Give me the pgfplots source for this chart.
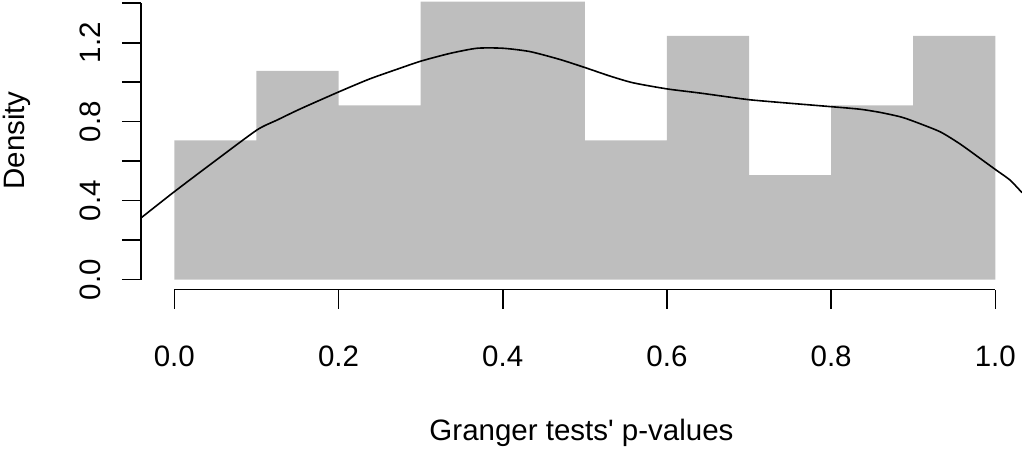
\documentclass[border=0pt]{standalone}
\usepackage{fontspec}
\setmainfont{Liberation Sans}
\usepackage{textcomp}
\usepackage{pgfplots}
\pgfplotsset{compat=1.18}
\definecolor{histgray}{HTML}{BEBEBE}

\begin{document}
\begin{tikzpicture}
\begin{axis}[
    scale only axis,
    width=881pt,height=289.5pt,
    xmin=-0.0406,xmax=1.0325,
    ymin=-0.0507,ymax=1.4166,
    axis x line*=bottom,axis y line*=left,
    axis line style={draw=none},
    tick align=outside,
    major tick length=19pt,
    tick style={black,line width=1.6pt},
    xtick={0,0.2,0.4,0.6,0.8,1.0},
    xticklabels={0.0,0.2,0.4,0.6,0.8,1.0},
    ytick={0,0.2,0.4,0.6,0.8,1.0,1.2,1.4},
    yticklabels={0.0,,0.4,,0.8,,1.2,},
    /pgf/number format/assume math mode=true,
    every tick label/.style={font=\fontsize{29.5}{35}\selectfont},
    % shifts are in the node's own (rotated) frame
    xticklabel style={anchor=base,yshift=-57.5pt},
    yticklabel style={rotate=90,anchor=base,yshift=21pt},
    xlabel={Granger tests\textquotesingle\ p-values},
    ylabel={Density},
    label style={font=\fontsize{29.5}{35}\selectfont},
    xlabel style={at={(axis description cs:0.5,0)},anchor=base,yshift=-151.2pt},
    ylabel style={at={(axis description cs:0,0.5)},anchor=base,yshift=116pt,xshift=4.25pt},
    clip=false
]
    % histogram (density scale)
    \addplot[ybar interval,fill=histgray,draw=none]
    coordinates{(0,0.705)(0.1,1.058)(0.2,0.882)(0.3,1.408)(0.4,1.408)
    (0.5,0.705)(0.6,1.235)(0.7,0.529)(0.8,0.882)(0.9,1.235)(1.0,1.235)};
    % kernel density
    \addplot[black,line width=1.6pt,smooth,tension=0.4]
    coordinates{(-0.0406,0.312)(0,0.445)(0.0496,0.601)(0.1007,0.758)
    (0.1251,0.808)(0.1531,0.864)(0.1998,0.950)(0.2376,1.016)(0.2743,1.070)
    (0.3005,1.107)(0.3358,1.146)(0.3687,1.172)(0.4004,1.172)(0.4333,1.155)
    (0.4698,1.115)(0.5003,1.074)(0.5307,1.031)(0.5587,0.997)(0.6001,0.966)
    (0.6403,0.945)(0.6927,0.915)(0.7134,0.906)(0.7621,0.889)(0.7999,0.876)
    (0.8352,0.863)(0.8596,0.847)(0.8839,0.825)(0.8998,0.803)(0.9326,0.749)
    (0.9570,0.687)(0.9814,0.614)(1.0009,0.555)(1.0179,0.504)(1.0325,0.440)};
    % R-style axis lines spanning the tick range only
    \draw[line width=1.6pt] (axis cs:0,-0.0507) -- (axis cs:1,-0.0507);
    \draw[line width=1.6pt] (axis cs:-0.0406,0) -- (axis cs:-0.0406,1.4);
\end{axis}
\pgfresetboundingbox
\path[use as bounding box] (-141pt,-160.5pt) rectangle (881pt,289.5pt);
\end{tikzpicture}
\end{document}
